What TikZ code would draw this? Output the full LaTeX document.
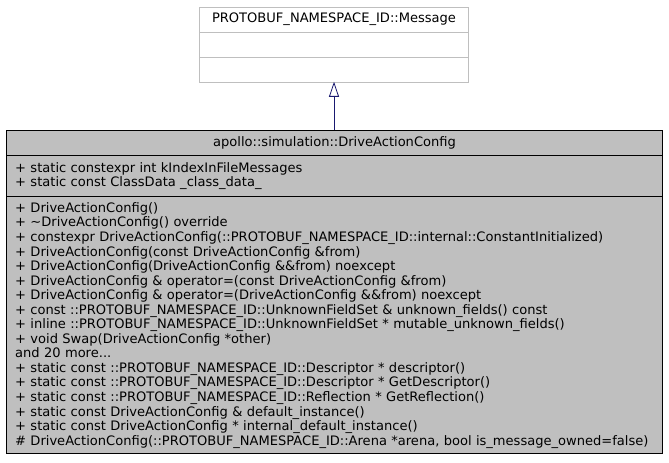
\documentclass[tikz,border=0pt]{standalone}
\usepackage{fontspec}
\setmainfont{DejaVu Sans}
\usetikzlibrary{arrows.meta,positioning}
\definecolor{edgeblue}{HTML}{191970}
\definecolor{boxgray}{HTML}{BFBFBF}
\newcommand{\umlfont}{\fontsize{13.1}{14.6}\selectfont}

\begin{document}
\begin{tikzpicture}[x=1bp, y=-1bp,
  part/.style={draw, rectangle, inner sep=0pt, outer sep=0pt, font=\umlfont, minimum width=#1},
  part/.default=659,
  basepart/.style={part=270, draw=boxgray, fill=white, minimum height=25},
  cfgpart/.style={part=659, draw=black, fill=boxgray, line width=0.8bp},
  members/.style={align=left, text width=641, inner xsep=9bp}]
  \path[fill=white] (0,0) rectangle (669,463);
  % base class
  \node[basepart] (msg-name) at (334,19.5) {PROTOBUF\_NAMESPACE\_ID::Message};
  \node[basepart, below=0pt of msg-name] (msg-attr) {};
  \node[basepart, below=0pt of msg-attr] (msg-ops) {};
  % derived class
  \node[cfgpart, minimum height=25] (cfg-name) at (334.5,142.5) {apollo::simulation::DriveActionConfig};
  \node[cfgpart, members, minimum height=42, below=0pt of cfg-name] (cfg-attr)
    {+ static constexpr int kIndexInFileMessages\\
     + static const ClassData \_class\_data\_};
  \node[cfgpart, members, minimum height=258, below=0pt of cfg-attr] (cfg-ops)
    {+ DriveActionConfig()\\
     + \textasciitilde DriveActionConfig() override\\
     + constexpr DriveActionConfig(::PROTOBUF\_NAMESPACE\_ID::internal::ConstantInitialized)\\
     + DriveActionConfig(const DriveActionConfig \&from)\\
     + DriveActionConfig(DriveActionConfig \&\&from) noexcept\\
     + DriveActionConfig \& operator=(const DriveActionConfig \&from)\\
     + DriveActionConfig \& operator=(DriveActionConfig \&\&from) noexcept\\
     + const ::PROTOBUF\_NAMESPACE\_ID::UnknownFieldSet \& unknown\_fields() const\\
     + inline ::PROTOBUF\_NAMESPACE\_ID::UnknownFieldSet * mutable\_unknown\_fields()\\
     + void Swap(DriveActionConfig *other)\\
     and 20 more...\\
     + static const ::PROTOBUF\_NAMESPACE\_ID::Descriptor * descriptor()\\
     + static const ::PROTOBUF\_NAMESPACE\_ID::Descriptor * GetDescriptor()\\
     + static const ::PROTOBUF\_NAMESPACE\_ID::Reflection * GetReflection()\\
     + static const DriveActionConfig \& default\_instance()\\
     + static const DriveActionConfig * internal\_default\_instance()\\
     \# DriveActionConfig(::PROTOBUF\_NAMESPACE\_ID::Arena *arena, bool is\_message\_owned=false)};
  \draw[edgeblue, line width=0.8bp, -{Triangle[open, width=10bp, length=15bp]}]
    (cfg-name.north -| msg-ops.south) -- (msg-ops.south);
\end{tikzpicture}
\end{document}
